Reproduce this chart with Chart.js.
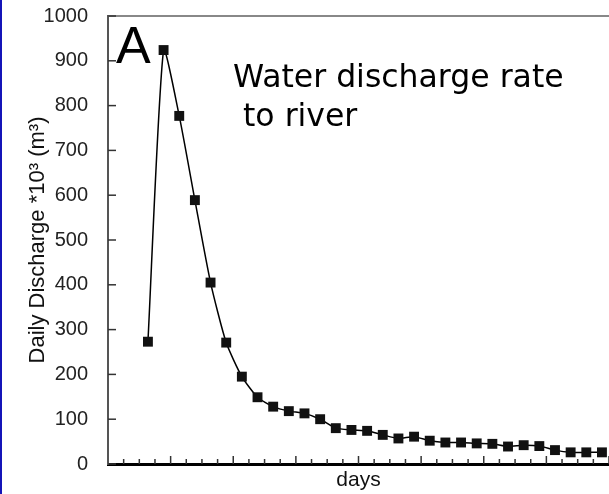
<!DOCTYPE html>
<html>
<head>
<meta charset="utf-8">
<script src="https://cdn.jsdelivr.net/npm/chart.js@4"></script>
<style>
  html, body { margin: 0; padding: 0; background: #fff; }
  #wrap { width: 609px; height: 494px; }
</style>
</head>
<body>
<div id="wrap"><canvas id="grafica" width="609" height="494"></canvas></div>
<script>
// datos
const dias = [1, 2, 3, 4, 5, 6, 7, 8, 9, 10, 11, 12, 13, 14, 15,
  16, 17, 18, 19, 20, 21, 22, 23, 24, 25, 26, 27, 28, 29, 30];
const descarga = [273, 924, 777, 589, 405, 271, 195, 149, 128, 118, 113, 100, 80, 76, 74,
  65, 57, 61, 52, 48, 48, 46, 45, 39, 42, 40, 31, 26, 26, 26];
const yTicks = [0, 100, 200, 300, 400, 500, 600, 700, 800, 900, 1000];
const etiquetaY = 'Daily Discharge *10³ (m³)';
const etiquetaX = 'days';
const panel = 'A';
const titulo = ['Water discharge rate', ' to river'];

// marco, marcas hacia dentro y textos del panel
const decoracion = {
  id: 'decoracion',
  beforeDraw(chart) {
    const { ctx } = chart;
    ctx.save();
    ctx.fillStyle = '#1414b8';
    ctx.fillRect(0, 0, 2, chart.height);
    ctx.restore();
  },
  afterDatasetsDraw(chart) {
    const { ctx, chartArea: a, scales: { x, y } } = chart;
    ctx.save();
    // borde superior
    ctx.strokeStyle = '#888';
    ctx.lineWidth = 2;
    ctx.beginPath();
    ctx.moveTo(a.left, a.top);
    ctx.lineTo(a.right, a.top);
    ctx.stroke();
    // marcas del eje y
    ctx.strokeStyle = '#333';
    ctx.lineWidth = 1.5;
    yTicks.forEach(v => {
      const py = y.getPixelForValue(v);
      ctx.beginPath();
      ctx.moveTo(a.left, py);
      ctx.lineTo(a.left + 8, py);
      ctx.stroke();
    });
    // marcas del eje x
    for (let i = 0; i <= 31; i++) {
      const px = x.getPixelForValue(i - 0.55);
      if (px < a.left + 2 || px > a.right) continue;
      const largo = (i % 4 === 3) ? 8 : 5;
      ctx.beginPath();
      ctx.moveTo(px, a.bottom);
      ctx.lineTo(px, a.bottom - largo);
      ctx.stroke();
    }
    // textos
    ctx.fillStyle = '#000';
    ctx.textBaseline = 'alphabetic';
    ctx.font = '52px "Liberation Sans", Arial, sans-serif';
    ctx.fillText(panel, 116, 63);
    ctx.font = '31.5px "DejaVu Sans", sans-serif';
    ctx.fillText(titulo[0], 233, 87);
    ctx.fillText(titulo[1], 233, 126);
    ctx.restore();
  }
};

new Chart(document.getElementById('grafica').getContext('2d'), {
  type: 'line',
  data: {
    datasets: [{
      data: dias.map((d, i) => ({ x: d, y: descarga[i] })),
      borderColor: '#000',
      borderWidth: 1.5,
      tension: 0.2,
      pointStyle: 'rect',
      pointRadius: 7,
      pointBackgroundColor: '#111',
      pointBorderColor: '#111',
      pointBorderWidth: 0
    }]
  },
  options: {
    responsive: false,
    animation: false,
    layout: { autoPadding: false, padding: { top: 16, right: 0, left: 0, bottom: 0 } },
    plugins: { legend: { display: false }, tooltip: { enabled: false } },
    scales: {
      x: {
        type: 'linear',
        min: -1.55,
        max: 30.45,
        grid: { display: false, drawTicks: false },
        border: { color: '#000', width: 3 },
        ticks: { display: false },
        title: {
          display: true,
          text: etiquetaX,
          color: '#111',
          font: { family: '"Liberation Sans", Arial, sans-serif', size: 21 },
          padding: { top: 0, bottom: 1 }
        },
        afterFit(s) { s.height = 30; s.paddingLeft = 0; s.paddingRight = 0; }
      },
      y: {
        min: 0,
        max: 1000,
        grid: { display: false, drawTicks: false },
        border: { color: '#555', width: 2 },
        ticks: {
          stepSize: 100,
          padding: 20,
          color: '#222',
          font: { family: '"Liberation Sans", Arial, sans-serif', size: 20 },
          callback: v => String(v)
        },
        title: {
          display: true,
          text: etiquetaY,
          color: '#111',
          font: { family: '"Liberation Sans", Arial, sans-serif', size: 22 },
          padding: { top: 25, bottom: 0 }
        },
        afterFit(s) { s.width = 108; s.paddingTop = 0; s.paddingBottom = 0; }
      }
    }
  },
  plugins: [decoracion]
});
</script>
</body>
</html>
